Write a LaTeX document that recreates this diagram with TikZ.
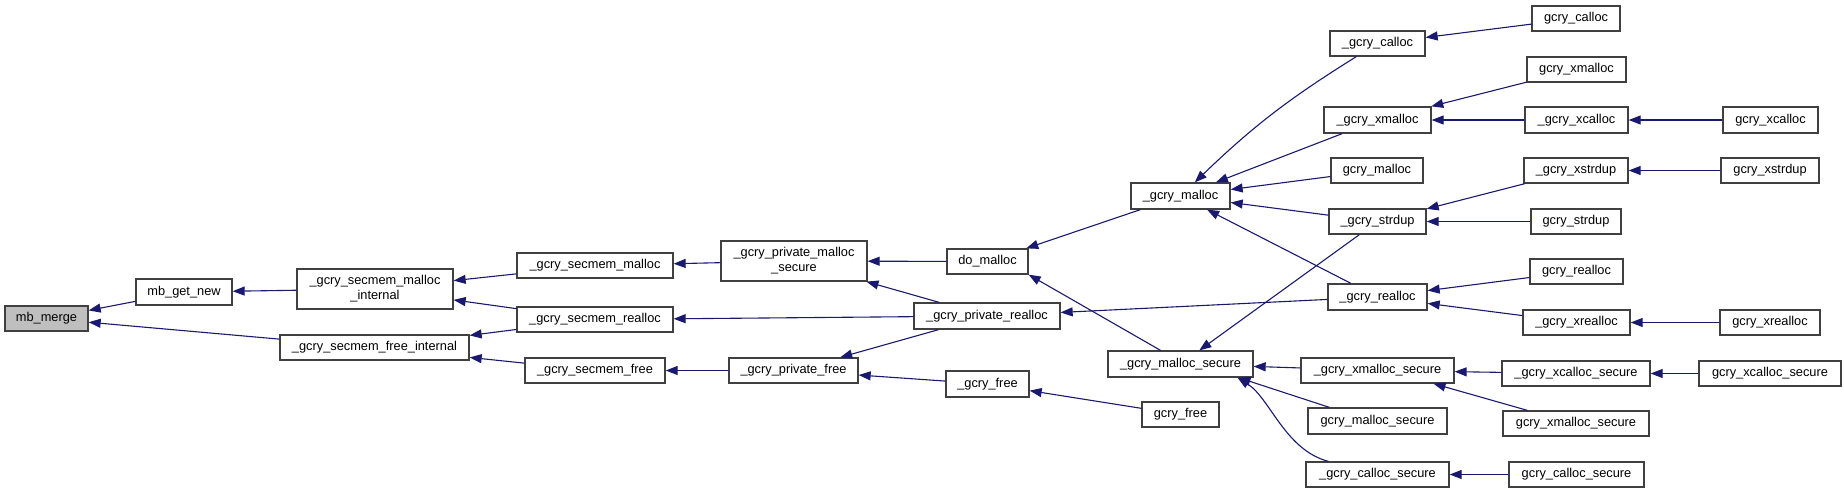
\documentclass[tikz,border=0pt]{standalone}
\usepackage{fontspec}
\setmainfont{Liberation Sans}
\usetikzlibrary{arrows.meta,calc}
\definecolor{edgeblue}{HTML}{191970}
\definecolor{nodegray}{HTML}{BFBFBF}
\definecolor{bordergray}{HTML}{404040}
\newcommand\gbox[7][]{%
  \pgfmathsetmacro\gbX{(#3+#4)/2}%
  \pgfmathsetmacro\gbY{(#5+#6)/2}%
  \pgfmathsetmacro\gbW{#4-#3}%
  \pgfmathsetmacro\gbH{#6-#5}%
  \node[box,minimum width=\gbW pt,minimum height=\gbH pt,#1] (#2) at (\gbX,\gbY) {#7};}
\begin{document}
\begin{tikzpicture}[x=1pt,y=-1pt,
  box/.style={draw=bordergray,line width=1.3pt,fill=white,inner sep=0pt,
    font=\fontsize{12.8}{15}\selectfont,align=center},
  arr/.style={draw=edgeblue,line width=1.1pt,{Triangle[length=12pt,width=9pt]}-}]
\useasboundingbox (0,0) rectangle (1844,493);
\gbox[fill=nodegray]{mbm}{5}{88}{306}{331}{mb\_merge}
\gbox{mbgn}{136}{232}{279}{305}{mb\_get\_new}
\gbox{smi}{297}{453}{269}{309}{\_gcry\_secmem\_malloc\\\_internal}
\gbox{sfi}{280}{469}{335}{360}{\_gcry\_secmem\_free\_internal}
\gbox{sm}{517}{673}{253}{278}{\_gcry\_secmem\_malloc}
\gbox{sr}{517}{673}{307}{332}{\_gcry\_secmem\_realloc}
\gbox{sf}{525}{665}{358}{383}{\_gcry\_secmem\_free}
\gbox{pms}{721}{867}{241}{281}{\_gcry\_private\_malloc\\\_secure}
\gbox{pr}{914}{1060}{303}{329}{\_gcry\_private\_realloc}
\gbox{pf}{729}{858}{358}{383}{\_gcry\_private\_free}
\gbox{dm}{947}{1028}{249}{274}{do\_malloc}
\gbox{gf}{946}{1029}{371}{397}{\_gcry\_free}
\gbox{gm}{1131}{1230}{183}{209}{\_gcry\_malloc}
\gbox{gms}{1108}{1253}{351}{377}{\_gcry\_malloc\_secure}
\gbox{gfree}{1142}{1219}{402}{427}{gcry\_free}
\gbox{gc}{1330}{1425}{31}{56}{\_gcry\_calloc}
\gbox{gxm}{1324}{1431}{107}{133}{\_gcry\_xmalloc}
\gbox{gmal}{1331}{1423}{158}{183}{gcry\_malloc}
\gbox{gsd}{1329}{1426}{209}{234}{\_gcry\_strdup}
\gbox{gr}{1328}{1427}{284}{310}{\_gcry\_realloc}
\gbox{gxms}{1301}{1454}{358}{383}{\_gcry\_xmalloc\_secure}
\gbox{gmsec}{1308}{1447}{408}{434}{gcry\_malloc\_secure}
\gbox{gcs}{1306}{1449}{462}{487}{\_gcry\_calloc\_secure}
\gbox{gcal}{1532}{1620}{6}{31}{gcry\_calloc}
\gbox{gxmal}{1527}{1626}{57}{82}{gcry\_xmalloc}
\gbox{gxc}{1525}{1628}{107}{133}{\_gcry\_xcalloc}
\gbox{gxcal}{1723}{1818}{107}{133}{gcry\_xcalloc}
\gbox{gxsd}{1524}{1628}{158}{183}{\_gcry\_xstrdup}
\gbox{gxsdup}{1721}{1819}{158}{183}{gcry\_xstrdup}
\gbox{gstrdup}{1531}{1621}{209}{234}{gcry\_strdup}
\gbox{grealloc}{1530}{1623}{259}{284}{gcry\_realloc}
\gbox{gxr}{1523}{1630}{310}{335}{\_gcry\_xrealloc}
\gbox{gxrealloc}{1720}{1820}{310}{335}{gcry\_xrealloc}
\gbox{gxcs}{1502}{1650}{361}{386}{\_gcry\_xcalloc\_secure}
\gbox{gxcsec}{1699}{1841}{361}{386}{gcry\_xcalloc\_secure}
\gbox{gxmsec}{1503}{1649}{411}{436}{gcry\_xmalloc\_secure}
\gbox{gcsec}{1509}{1644}{462}{487}{gcry\_calloc\_secure}
% edges
\draw[arr] (mbm) -- (mbgn);
\draw[arr] (mbm) -- (sfi);
\draw[arr] (mbgn) -- (smi);
\draw[arr] (smi) -- (sm);
\draw[arr] (smi) -- (sr);
\draw[arr] (sfi) -- (sr);
\draw[arr] (sfi) -- (sf);
\draw[arr] (sm) -- (pms);
\draw[arr] (sr) -- (pr);
\draw[arr] (sf) -- (pf);
\draw[arr] (pms) -- (dm);
\draw[arr] (pms) -- (pr);
\draw[arr] (pf) -- (pr);
\draw[arr] (pf) -- (gf);
\draw[arr] (dm) -- (gm);
\draw[arr] (dm.south east) -- ($(gms.north)+(-20,0)$);
\draw[arr] (pr) -- (gr);
\draw[arr] (gf) -- (gfree);
\draw[arr] (gm) to[bend left=6] (gc);
\draw[arr] (gm) -- (gxm);
\draw[arr] (gm) -- (gmal);
\draw[arr] (gm) -- (gsd);
\draw[arr] (gm) -- (gr);
\draw[arr] (gms) -- (gsd);
\draw[arr] (gms) -- (gxms);
\draw[arr] ($(gms.south)+(58,0)$) -- ($(gmsec.north west)+(22,0)$);
\draw[arr] ($(gms.south)+(57,0)$) .. controls (1270,398) and (1285,450) .. ($(gcs.north west)+(23,0)$);
\draw[arr] (gc) -- (gcal);
\draw[arr] (gxm) -- (gxmal);
\draw[arr] (gxm) -- (gxc);
\draw[arr] (gxc) -- (gxcal);
\draw[arr] (gsd) -- (gxsd);
\draw[arr] (gsd) -- (gstrdup);
\draw[arr] (gxsd) -- (gxsdup);
\draw[arr] (gr) -- (grealloc);
\draw[arr] (gr) -- (gxr);
\draw[arr] (gxr) -- (gxrealloc);
\draw[arr] (gxms) -- (gxcs);
\draw[arr] ($(gxms.south)+(56,0)$) -- ($(gxmsec.north west)+(25,0)$);
\draw[arr] (gxcs) -- (gxcsec);
\draw[arr] (gcs) -- (gcsec);
\end{tikzpicture}
\end{document}
